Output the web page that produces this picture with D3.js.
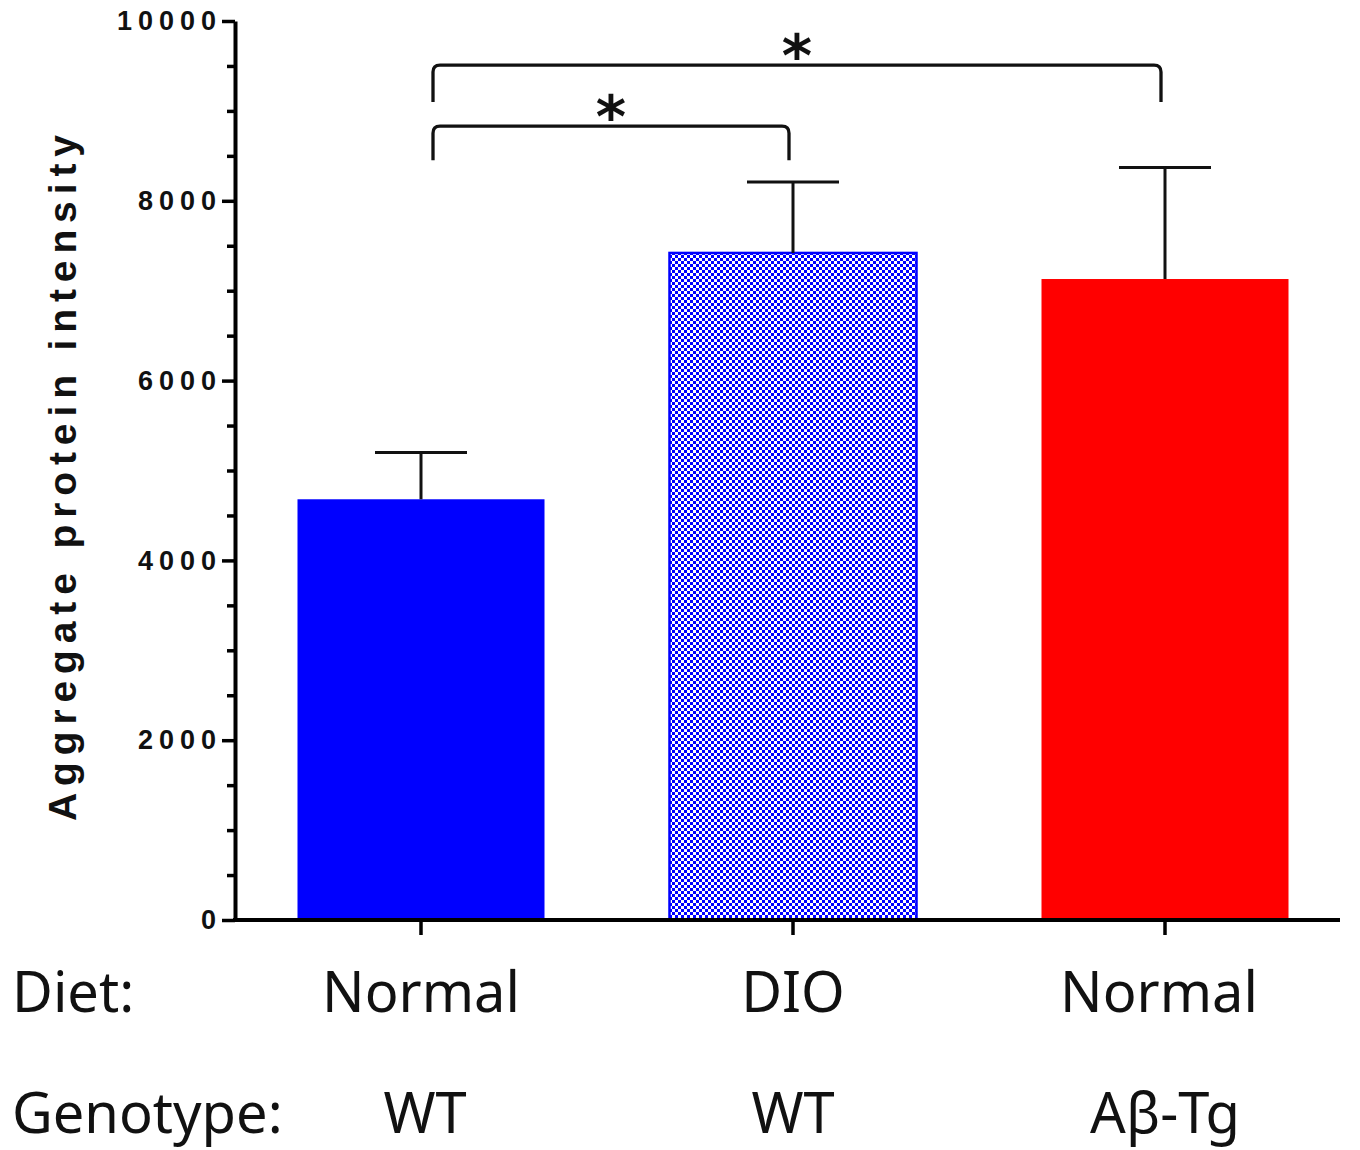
<!DOCTYPE html>
<html>
<head>
<meta charset="utf-8">
<script src="https://cdn.jsdelivr.net/npm/d3@7"></script>
<style>
  body { margin: 0; background: #fff; }
  svg { display: block; }
</style>
</head>
<body>
<script>
// data
var groups = ["WT Normal", "WT DIO", "Tg Normal"];
var diets = ["Normal", "DIO", "Normal"];
var genotypes = ["WT", "WT", "Aβ-Tg"];
var means = [4680, 7420, 7130];
var sems = [520, 790, 1240];
var yMajor = [0, 2000, 4000, 6000, 8000, 10000];
var brackets = [
  { from: 0, to: 1, base: 8450, top: 8830, label: "*" },
  { from: 0, to: 2, base: 9100, top: 9510, label: "*" }
];

var W = 1360, H = 1150;
var svg = d3.select("body").append("svg").attr("width", W).attr("height", H);

// checkerboard fill for the DIO bar
var defs = svg.append("defs");
var pat = defs.append("pattern")
  .attr("id", "checker")
  .attr("patternUnits", "userSpaceOnUse")
  .attr("width", 6).attr("height", 6);
pat.append("rect").attr("width", 6).attr("height", 6).attr("fill", "#fff");
pat.append("rect").attr("width", 3).attr("height", 3).attr("fill", "#0000ff");
pat.append("rect").attr("x", 3).attr("y", 3).attr("width", 3).attr("height", 3).attr("fill", "#0000ff");

var y = d3.scaleLinear().domain([0, 10000]).range([920, 21]);
var x = d3.scaleBand().domain(groups).range([235, 1351]).paddingInner(0.336).paddingOuter(0.168);
var cx = function(i){ return x(groups[i]) + x.bandwidth() / 2; };

var fills = ["#0000ff", "url(#checker)", "#ff0000"];

// bars
svg.selectAll("rect.bar").data(means).enter().append("rect")
  .attr("class", "bar")
  .attr("x", function(d, i){ return x(groups[i]); })
  .attr("y", function(d){ return y(d); })
  .attr("width", x.bandwidth())
  .attr("height", function(d){ return y(0) - y(d); })
  .attr("fill", function(d, i){ return fills[i]; })
  .attr("stroke", function(d, i){ return i == 1 ? "#0000ff" : "none"; })
  .attr("stroke-width", 2.5);

// error bars (upper only)
var capW = 92;
var eb = svg.selectAll("g.err").data(means).enter().append("g").attr("class", "err")
  .attr("stroke", "#111").attr("stroke-width", 3);
eb.append("line")
  .attr("x1", function(d, i){ return cx(i); })
  .attr("x2", function(d, i){ return cx(i); })
  .attr("y1", function(d){ return y(d); })
  .attr("y2", function(d, i){ return y(d + sems[i]); });
eb.append("line")
  .attr("x1", function(d, i){ return cx(i) - capW / 2; })
  .attr("x2", function(d, i){ return cx(i) + capW / 2; })
  .attr("y1", function(d, i){ return y(d + sems[i]); })
  .attr("y2", function(d, i){ return y(d + sems[i]); });

// y axis with minor ticks
var minor = d3.range(0, 10001, 500).filter(function(v){ return v % 2000 != 0; });
svg.append("g").attr("transform", "translate(235,0)")
  .call(d3.axisLeft(y).tickValues(minor).tickSize(8).tickFormat(""))
  .call(function(g){ g.select(".domain").remove(); g.selectAll("line").attr("stroke-width", 3.5); });
svg.append("g").attr("transform", "translate(235,0)")
  .call(d3.axisLeft(y).tickValues(yMajor).tickSize(13).tickSizeOuter(0).tickPadding(10).tickFormat(d3.format("d")))
  .call(function(g){
    g.select(".domain").attr("stroke-width", 4);
    g.selectAll("line").attr("stroke-width", 3.5);
    g.selectAll("text")
      .attr("font-family", "Liberation Sans, Arial, sans-serif")
      .attr("font-weight", "bold")
      .attr("font-size", 27)
      .attr("letter-spacing", 6)
      .attr("dx", 10)
      .attr("fill", "#111");
  });

// x axis
svg.append("line").attr("x1", 233).attr("x2", 1340).attr("y1", y(0)).attr("y2", y(0))
  .attr("stroke", "#000").attr("stroke-width", 4);
svg.selectAll("line.xt").data(groups).enter().append("line")
  .attr("class", "xt")
  .attr("x1", function(d, i){ return cx(i); })
  .attr("x2", function(d, i){ return cx(i); })
  .attr("y1", y(0)).attr("y2", y(0) + 15)
  .attr("stroke", "#000").attr("stroke-width", 3.5);

// y title
svg.append("text")
  .attr("transform", "translate(76,478) rotate(-90)")
  .attr("text-anchor", "middle")
  .attr("font-family", "Liberation Sans, Arial, sans-serif")
  .attr("font-weight", "bold")
  .attr("font-size", 39)
  .attr("textLength", 686)
  .attr("lengthAdjust", "spacing")
  .attr("fill", "#111")
  .text("Aggregate protein intensity");

// significance brackets
var r = 7;
svg.selectAll("path.br").data(brackets).enter().append("path")
  .attr("class", "br")
  .attr("fill", "none").attr("stroke", "#111").attr("stroke-width", 3.3)
  .attr("d", function(b){
    var x0 = cx(b.from) + 12, x1 = cx(b.to) - 4;
    var yb = y(b.base), yt = y(b.top);
    return "M" + x0 + "," + yb + "L" + x0 + "," + (yt + r) +
      "Q" + x0 + "," + yt + " " + (x0 + r) + "," + yt +
      "L" + (x1 - r) + "," + yt +
      "Q" + x1 + "," + yt + " " + x1 + "," + (yt + r) +
      "L" + x1 + "," + yb;
  });
svg.selectAll("text.star").data(brackets).enter().append("text")
  .attr("class", "star")
  .attr("x", function(b){ return (cx(b.from) + 12 + cx(b.to) - 4) / 2; })
  .attr("y", function(b){ return y(b.top) + 11; })
  .attr("text-anchor", "middle")
  .attr("font-family", "DejaVu Sans, sans-serif")
  .attr("font-weight", "bold")
  .attr("font-size", 58)
  .attr("fill", "#111")
  .text(function(b){ return b.label; });

// category rows
var rowFont = "Noto Sans, sans-serif";
var rowSize = 56;
svg.append("text").attr("x", 12).attr("y", 1012).attr("font-family", rowFont)
  .attr("font-size", rowSize).attr("fill", "#111").text("Diet:");
svg.append("text").attr("x", 12).attr("y", 1133).attr("font-family", rowFont)
  .attr("font-size", rowSize).attr("fill", "#111").text("Genotype:");
svg.selectAll("text.diet").data(diets).enter().append("text")
  .attr("class", "diet")
  .attr("x", function(d, i){ return cx(i) - (i == 2 ? 6 : 0); })
  .attr("y", 1012)
  .attr("text-anchor", "middle")
  .attr("font-family", rowFont).attr("font-size", rowSize).attr("fill", "#111")
  .text(function(d){ return d; });
svg.selectAll("text.geno").data(genotypes).enter().append("text")
  .attr("class", "geno")
  .attr("x", function(d, i){ return cx(i) + (i == 0 ? 4 : 0); })
  .attr("y", 1133)
  .attr("text-anchor", "middle")
  .attr("font-family", rowFont).attr("font-size", rowSize).attr("fill", "#111")
  .text(function(d){ return d; });
</script>
</body>
</html>
